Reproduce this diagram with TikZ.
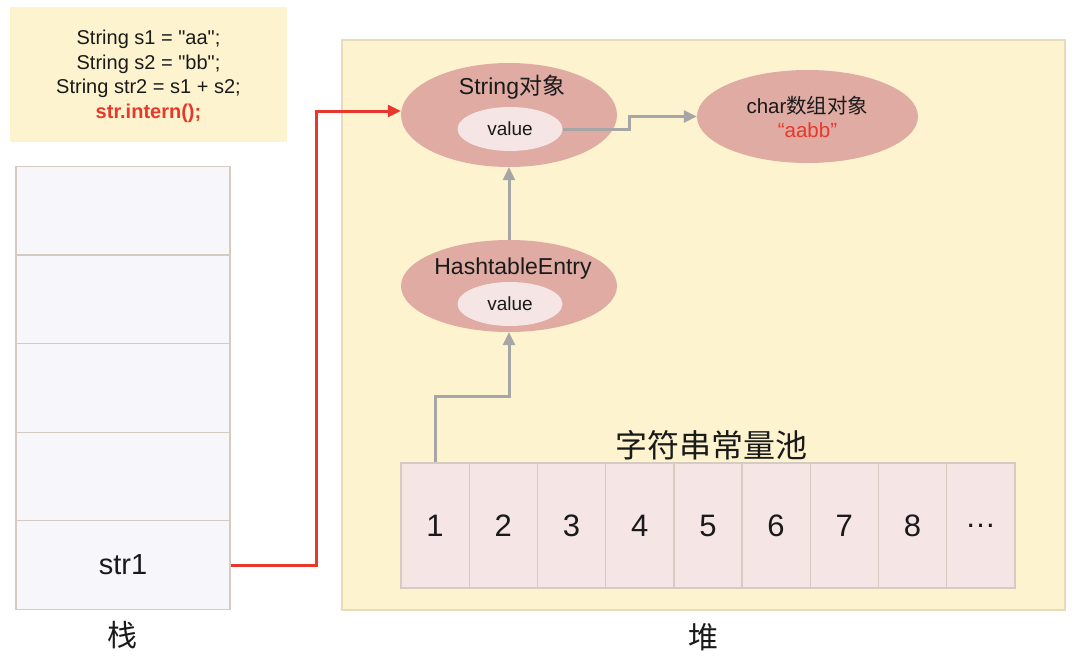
\documentclass[tikz,border=0pt]{standalone}
\usepackage{fontspec}
\setmainfont{Liberation Sans}[Ligatures=TeXOff]
\newfontfamily\cjk{Noto Sans CJK SC}
\usetikzlibrary{shapes.geometric,arrows.meta,calc}
\definecolor{paper}{HTML}{FDF3CE}
\definecolor{paperline}{HTML}{E6DCBC}
\definecolor{ovalfill}{HTML}{DFABA3}
\definecolor{innerfill}{HTML}{F5E5E5}
\definecolor{stackfill}{HTML}{F7F7FB}
\definecolor{cellline}{HTML}{D6CBC3}
\definecolor{hotred}{HTML}{E8382B}
\definecolor{linkgray}{HTML}{A6A6A6}
\definecolor{ink}{HTML}{1A1A1A}
\begin{document}
\begin{tikzpicture}[x=1pt,y=-1pt, every node/.style={text=ink},
  codetext/.style={inner sep=0, align=center, font=\fontsize{20}{24.5}\selectfont},
  stackcell/.style={draw=cellline, line width=1.4, fill=stackfill, minimum width=214, minimum height=88.6, inner sep=0, font=\fontsize{29}{32}\selectfont},
  poolcell/.style={draw=cellline, line width=1.4, fill=innerfill, minimum width=68.2, minimum height=125, inner sep=0, font=\fontsize{31}{34}\selectfont},
  bigoval/.style={ellipse, fill=ovalfill, inner sep=0},
  inneroval/.style={ellipse, fill=innerfill, minimum width=105, minimum height=44, inner sep=0, font=\fontsize{19}{22}\selectfont},
  ovaltitle/.style={inner sep=0, font=\fontsize{23}{26}\selectfont},
  biglabel/.style={inner sep=0, font=\fontsize{30}{34}\selectfont\cjk},
  graylink/.style={draw=linkgray, line width=3, -{Triangle[length=13pt,width=12pt]}},
  redlink/.style={draw=hotred, line width=3, -{Triangle[length=13pt,width=12pt]}}
]
\useasboundingbox (0,0) rectangle (1080,657);
\fill[white] (0,0) rectangle (1080,657);

% code box
\fill[paper] (10,7) rectangle (287,142);
\node[codetext] (code) at (148.5,76.5) {String s1 = "aa";\\String s2 = "bb";\\String str2 = s1 + s2;\\{\color{hotred}\bfseries str.intern();}};

% stack
\node[stackcell] (c1) at (123,210.5) {};
\node[stackcell] (c2) at (123,299.5) {};
\node[stackcell] (c3) at (123,388) {};
\node[stackcell] (c4) at (123,476.5) {};
\node[stackcell] (c5) at (123,565) {str1};
\node[biglabel] (stacklabel) at (122,635) {栈};

% heap
\node[draw=paperline, line width=1.4, fill=paper, minimum width=723, minimum height=570, inner sep=0] (heap) at (703.5,325) {};
\node[biglabel] (heaplabel) at (703,637) {堆};

% String object
\node[bigoval, minimum width=216, minimum height=104] (strobj) at (509,115) {};
\node[ovaltitle] (strtitle) at (512,87.5) {String{\cjk 对象}};
\node[inneroval] (sval) at (510,129) {value};

% char array object
\node[bigoval, minimum width=221, minimum height=93, align=center, font=\fontsize{20.5}{24}\selectfont] (charobj) at (807.5,116.5) {char{\cjk 数组对象}\\{\color{hotred}“aabb”}};

% HashtableEntry
\node[bigoval, minimum width=216, minimum height=92] (hash) at (509,286) {};
\node[ovaltitle] (hashtitle) at (513,268.5) {HashtableEntry};
\node[inneroval] (hval) at (510,304) {value};

% pool
\node[inner sep=0, font=\fontsize{32}{36}\selectfont\cjk] (pooltitle) at (711,445) {字符串常量池};
\foreach \i/\t in {1/1,2/2,3/3,4/4,5/5,6/6,7/7,8/8,9/\dots} {
  \node[poolcell] (p\i) at ({401+34.1+68.2*(\i-1)},525.5) {\t};
}

% connectors
\draw[redlink] (c5.east) -- ++(86,0) |- ($(strobj.west)+(0,-4)$);
\draw[graylink] (sval.east) -| ($(sval.east)!0.5!(charobj.west)$) |- (charobj.west);
\draw[graylink] (hash.north) -- (strobj.south);
\draw[graylink] (p1.north) -- ++(0,-66) -| (hash.south);
\end{tikzpicture}
\end{document}
